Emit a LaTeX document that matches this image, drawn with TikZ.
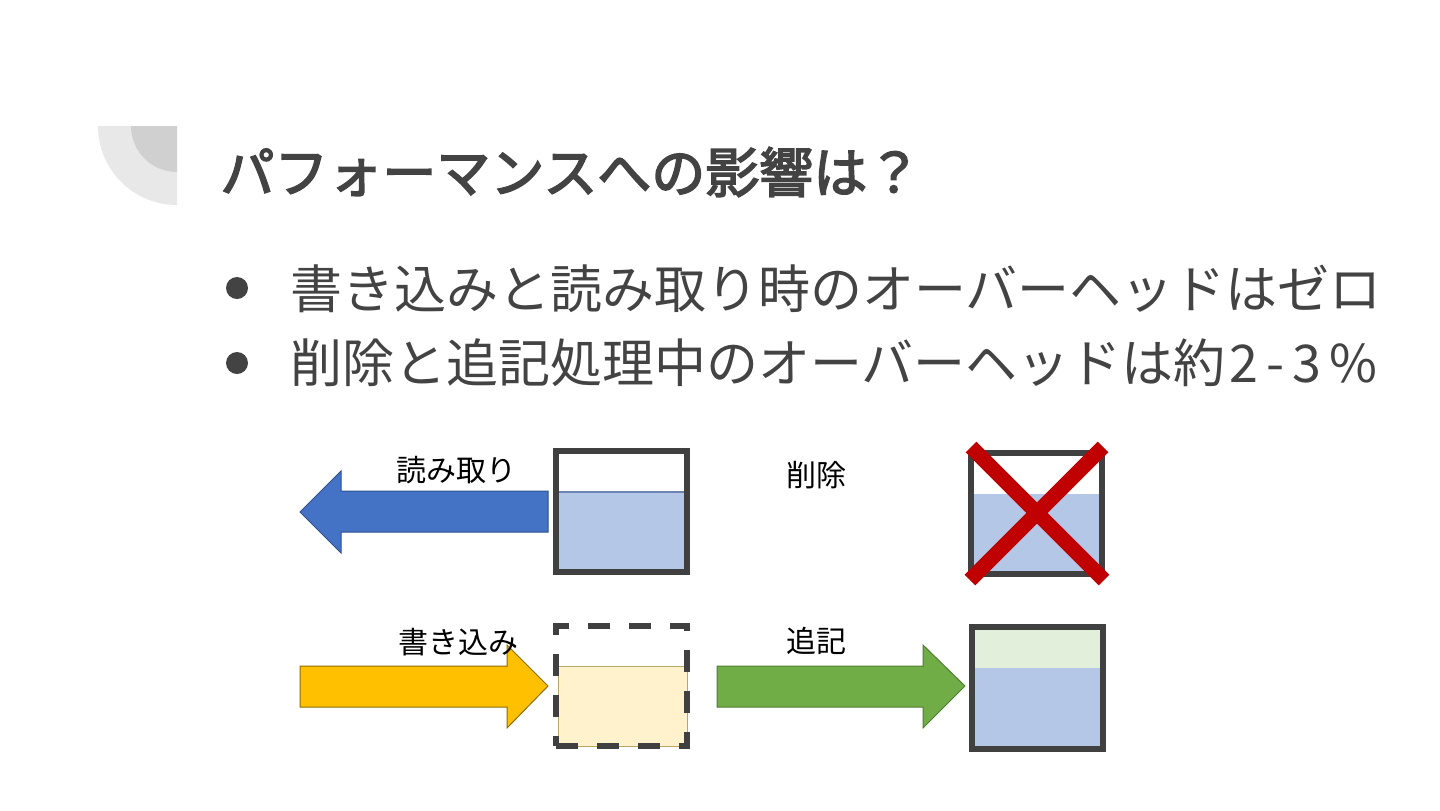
\documentclass[tikz,border=0pt]{standalone}
\usepackage{fontspec}
\setmainfont{Noto Sans CJK JP}
\newfontfamily\headfont{Noto Sans CJK JP}[FakeBold=3]
\usetikzlibrary{positioning}
\definecolor{inkgray}{HTML}{434343}
\definecolor{frameg}{HTML}{404040}
\definecolor{decolt}{HTML}{E8E8E8}
\definecolor{decodk}{HTML}{D0D0D0}
\definecolor{datab}{HTML}{B4C7E7}
\definecolor{datay}{HTML}{FFF2CC}
\definecolor{datag}{HTML}{E2EFDA}
\definecolor{readc}{HTML}{4472C4}
\definecolor{readl}{HTML}{2F528F}
\definecolor{writec}{HTML}{FFC000}
\definecolor{writel}{HTML}{8C6D00}
\definecolor{appc}{HTML}{70AD47}
\definecolor{appl}{HTML}{507E32}
\definecolor{crossc}{HTML}{C00000}

\begin{document}
\begin{tikzpicture}[
  x=0.5pt, y=-0.5pt,
  title/.style={font=\fontsize{27pt}{30pt}\headfont, text=inkgray,
                anchor=west, inner sep=0pt},
  item/.style={font=\fontsize{26pt}{30pt}\selectfont, text=inkgray,
               anchor=west, inner sep=0pt},
  dot/.style={circle, fill=inkgray, minimum size=11pt, inner sep=0pt},
  tag/.style={font=\fontsize{15pt}{18pt}\selectfont, text=black, inner sep=0pt},
  store/.style={rectangle, draw=frameg, line width=3pt, inner sep=0pt,
                minimum width=65.5pt, minimum height=60.5pt},
  newstore/.style={store, dash pattern=on 11pt off 9.5pt},
  blockarrow/.style={line width=0.5pt},
  cross/.style={draw=crossc, line width=7.5pt},
]
\useasboundingbox (0,0) rectangle (1440,810);

% ---- corner decoration ----
\fill[decolt] (177,126) -- (98,126) arc[start angle=180, end angle=270, radius=39.5pt] -- cycle;
\fill[decodk] (177,126) -- (131,126) arc[start angle=180, end angle=270, radius=23pt] -- cycle;

% ---- title and bullets ----
\node[title] (head) at (220,172) {パフォーマンスへの影響は？};
\node[dot] (d1) at (237,288) {};
\node[item] (l1) at (290,289) {書き込みと読み取り時のオーバーヘッドはゼロ};
\node[dot] (d2) at (237,363) {};
\node[item] (l2) at (290,363)
  {削除と追記処理中のオーバーヘッドは約\kern2pt 2\kern4pt-\kern4pt3\kern4pt\%};

% ---- data fills ----
\fill[datab] (556,492) rectangle (687,572);
\filldraw[datay, draw=writel!60, line width=0.4pt] (558,666) rectangle (687,746);
\fill[datab] (971,494) rectangle (1102,574);
\fill[datag] (972,627) rectangle (1103,668);
\fill[datab] (972,668) rectangle (1103,749);
\draw[readl!70, line width=0.6pt] (558,492) -- (685,492);

% ---- stores ----
\node[store] (rbox) at (621.5,511.5) {};
\node[newstore, minimum height=60pt] (wbox) at (621.5,686) {};
\node[store] (dbox) at (1036.5,513.5) {};
\node[store, minimum height=61pt] (abox) at (1037.5,688) {};

% ---- block arrows ----
\filldraw[blockarrow, fill=readc, draw=readl]
  (300,512) -- (341,471) -- (341,491) -- (548,491) -- (548,532) -- (341,532) -- (341,553) -- cycle;
\filldraw[blockarrow, fill=writec, draw=writel]
  (300,666) -- (507,666) -- (507,645) -- (548,686) -- (507,728) -- (507,707) -- (300,707) -- cycle;
\filldraw[blockarrow, fill=appc, draw=appl]
  (717,666) -- (923,666) -- (923,645) -- (965,686) -- (923,728) -- (923,707) -- (717,707) -- cycle;

% ---- delete mark ----
\draw[cross] (971,447) -- (1104,580);
\draw[cross] (1103,447) -- (970,580);

% ---- labels ----
\node[tag] (rtag) at (456,470) {読み取り};
\node[tag] (wtag) at (458,642) {書き込み};
\node[tag] (dtag) at (816,475) {削除};
\node[tag] (atag) at (816,641) {追記};
\end{tikzpicture}
\end{document}
